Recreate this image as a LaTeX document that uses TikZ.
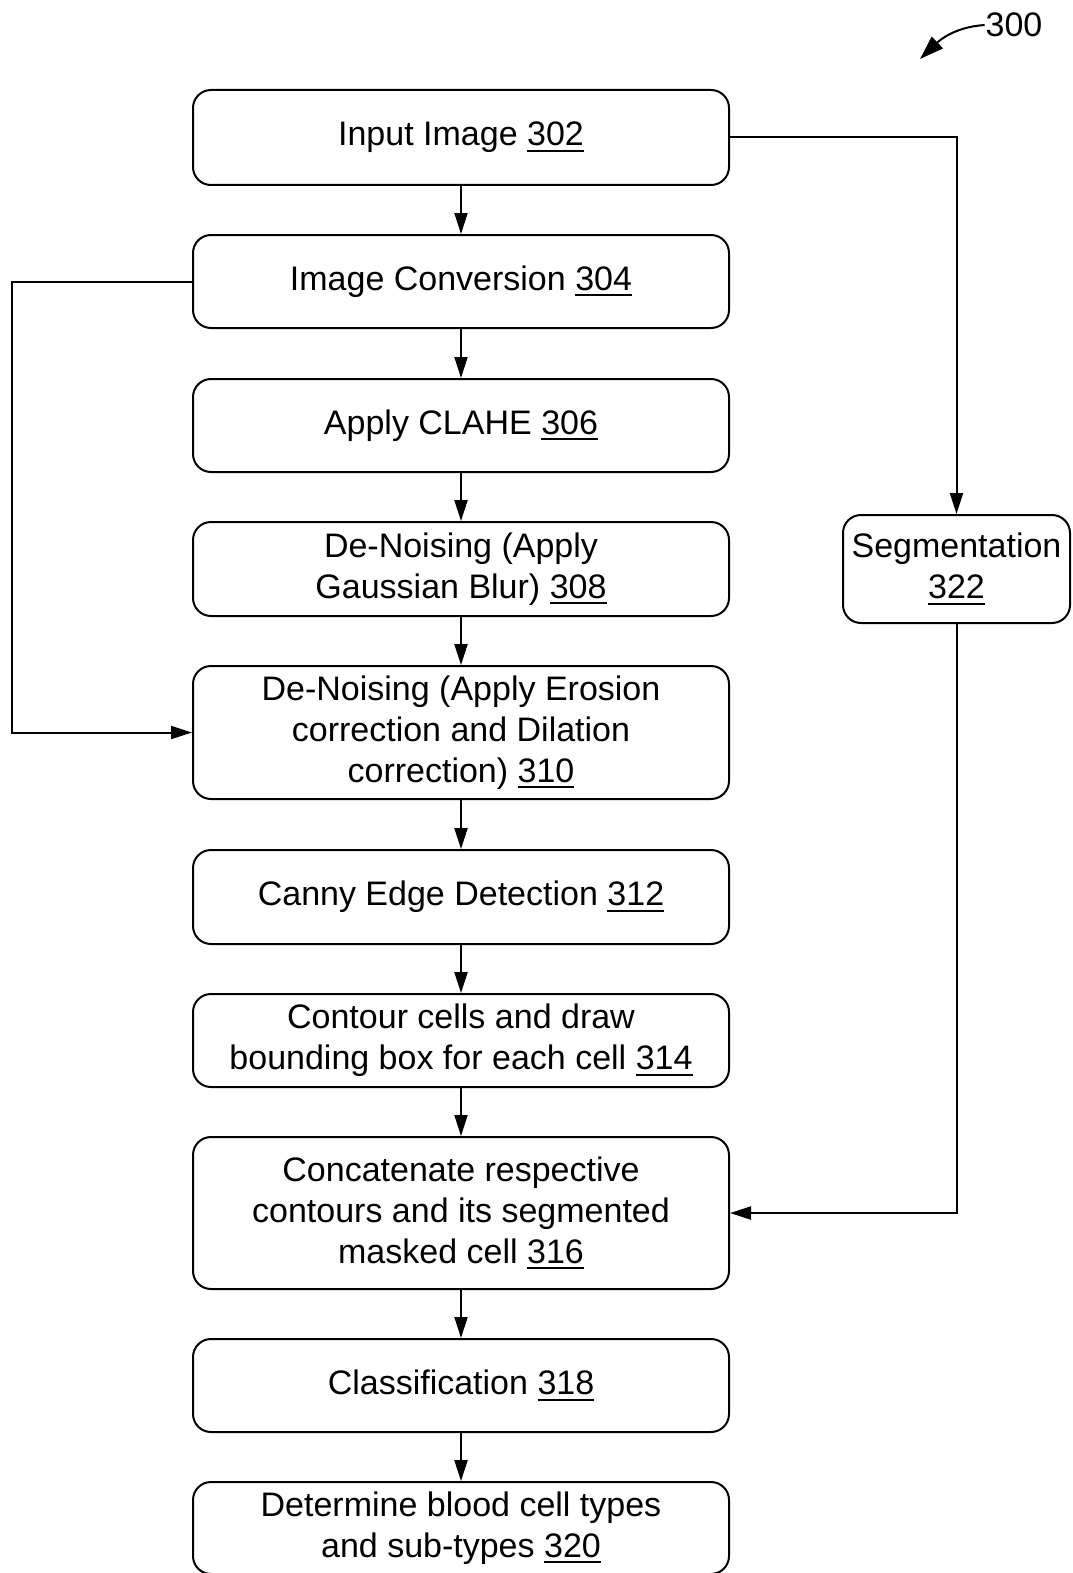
\documentclass[tikz,border=0pt]{standalone}
\usepackage{fontspec}
\setmainfont{Liberation Sans}
\usetikzlibrary{arrows.meta}
% reference numbers are printed underlined
\newcommand\refnum[1]{\setbox0\hbox{#1}\rlap{\rule[-6pt]{\wd0}{2.2pt}}\box0}
\begin{document}
\begin{tikzpicture}[x=1pt,y=-1pt,line width=2pt,
  stepbox/.style={draw,rounded corners=18pt,minimum width=536pt,align=center,
    inner sep=0pt,font=\fontsize{34}{41}\selectfont},
  flow/.style={-{Triangle[length=21pt,width=13pt]}}]
\useasboundingbox (0,0) rectangle (1072,1573);

% main column of processing steps
\node[stepbox,minimum height=95pt]  (n302) at (461,137.5) {Input Image \refnum{302}};
\node[stepbox,minimum height=93pt]  (n304) at (461,281.5) {Image Conversion \refnum{304}};
\node[stepbox,minimum height=93pt]  (n306) at (461,425.5) {Apply CLAHE \refnum{306}};
\node[stepbox,minimum height=94pt]  (n308) at (461,569)   {De-Noising (Apply\\Gaussian Blur) \refnum{308}};
\node[stepbox,minimum height=133pt] (n310) at (461,732.5) {De-Noising (Apply Erosion\\correction and Dilation\\correction) \refnum{310}};
\node[stepbox,minimum height=94pt]  (n312) at (461,897)   {Canny Edge Detection \refnum{312}};
\node[stepbox,minimum height=93pt]  (n314) at (461,1040.5){Contour cells and draw\\bounding box for each cell \refnum{314}};
\node[stepbox,minimum height=152pt] (n316) at (461,1213)  {Concatenate respective\\contours and its segmented\\masked cell \refnum{316}};
\node[stepbox,minimum height=93pt]  (n318) at (461,1385.5){Classification \refnum{318}};
\node[stepbox,minimum height=92pt]  (n320) at (461,1528)  {Determine blood cell types\\and sub-types \refnum{320}};

% side branch
\node[stepbox,minimum width=227pt,minimum height=108pt] (n322) at (956.5,569) {Segmentation\\\refnum{322}};

% figure label
\node[inner sep=0pt,font=\fontsize{34}{41}\selectfont] (lbl300) at (1014,25) {300};
\draw[-{Triangle[length=24pt,width=16pt]}] (lbl300.west) .. controls (955,27) and (940,40) .. (920,59);

% connectors
\draw[flow] (n302.south) -- (n304.north);
\draw[flow] (n304.south) -- (n306.north);
\draw[flow] (n306.south) -- (n308.north);
\draw[flow] (n308.south) -- (n310.north);
\draw[flow] (n310.south) -- (n312.north);
\draw[flow] (n312.south) -- (n314.north);
\draw[flow] (n314.south) -- (n316.north);
\draw[flow] (n316.south) -- (n318.north);
\draw[flow] (n318.south) -- (n320.north);

\coordinate (loopL) at (12,0);
\draw[flow] (n304.west) -- (n304.west -| loopL) |- (n310.west);
\draw[flow] (n302.east) -| (n322.north);
\draw[flow] (n322.south) |- (n316.east);
\end{tikzpicture}
\end{document}
